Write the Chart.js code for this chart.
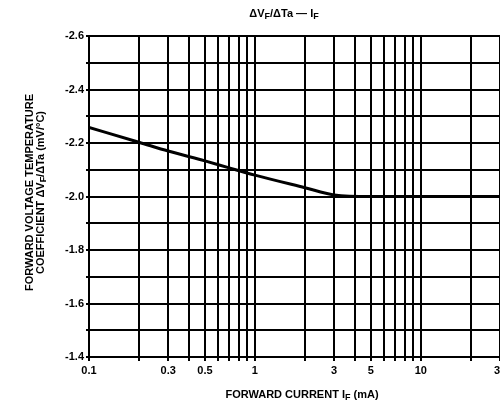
<!DOCTYPE html>
<html lang="en">
<head>
<meta charset="UTF-8">
<style>
html, body {
    margin: 0;
    padding: 0;
    background: #fff;
    overflow: hidden;
}

.chart-box {
    position: relative;
    width: 520px;
    height: 406px;
}
</style>
</head>
<body>
<div class="chart-box">
<canvas id="tempCoefChart"></canvas>
</div>
<script src="https://cdn.jsdelivr.net/npm/chart.js"></script>
<script>
// curve
const currentMA = [0.1, 0.2, 0.3, 0.5, 0.7, 1, 2, 3, 5, 30];
const tempCoef = [-2.258, -2.203, -2.17, -2.133, -2.107, -2.08, -2.033, -2.006, -2.0, -2.0];

// log paper grid + the labelled ticks
const xGridValues = [0.1, 0.2, 0.3, 0.4, 0.5, 0.6, 0.7, 0.8, 0.9, 1, 2, 3, 4, 5, 6, 7, 8, 9, 10, 20, 30];
const xLabelValues = [0.1, 0.3, 0.5, 1, 3, 5, 10, 30];
const xLabelTexts = ['0.1', '0.3', '0.5', '1', '3', '5', '10', '30'];
const yGridValues = [-2.6, -2.5, -2.4, -2.3, -2.2, -2.1, -2.0, -1.9, -1.8, -1.7, -1.6, -1.5, -1.4];
const yLabelValues = [-2.6, -2.4, -2.2, -2.0, -1.8, -1.6, -1.4];

const FONT = '"Liberation Sans", Arial, sans-serif';

function findLabel(values, texts, v) {
    const i = values.findIndex(t => Math.abs(t - v) < 1e-6);
    return i < 0 ? '' : texts[i];
}

// draws text with subscript parts, centred on x
function drawRich(ctx, parts, x, y, size) {
    const mainFont = 'bold ' + size + 'px ' + FONT;
    const subFont = 'bold ' + (size - 2) + 'px ' + FONT;
    let total = 0;
    parts.forEach(p => {
        ctx.font = p[1] ? subFont : mainFont;
        total += ctx.measureText(p[0]).width;
    });
    let cx = x - total / 2;
    ctx.textAlign = 'left';
    ctx.textBaseline = 'middle';
    parts.forEach(p => {
        ctx.font = p[1] ? subFont : mainFont;
        ctx.fillText(p[0], cx, p[1] ? y + 3 : y);
        cx += ctx.measureText(p[0]).width;
    });
}

const titlePlugin = {
    id: 'sheetTitles',
    afterDraw(chart) {
        const ctx = chart.ctx;
        const a = chart.chartArea;
        ctx.save();
        ctx.fillStyle = '#000';
        drawRich(ctx, [['\u0394V', 0], ['F', 1], ['/\u0394Ta \u2014 I', 0], ['F', 1]], a.left + 195, 14, 11);
        drawRich(ctx, [['FORWARD CURRENT I', 0], ['F', 1], [' (mA)', 0]], a.left + 213, 395, 11);
        ctx.translate(0, (a.top + a.bottom) / 2 - 4);
        ctx.rotate(-Math.PI / 2);
        drawRich(ctx, [['FORWARD VOLTAGE TEMPERATURE', 0]], 0, 30, 11);
        drawRich(ctx, [['COEFFICIENT \u0394V', 0], ['F', 1], ['/\u0394Ta (mV/\u00b0C)', 0]], 0, 41, 11);
        ctx.restore();
    }
};

const ctx = document.getElementById('tempCoefChart').getContext('2d');
const tempCoefChart = new Chart(ctx, {
    type: 'line',
    data: {
        datasets: [{
            data: currentMA.map((x, i) => ({x: x, y: tempCoef[i]})),
            borderColor: '#000',
            borderWidth: 3,
            pointRadius: 0,
            tension: 0.4,
            cubicInterpolationMode: 'monotone',
            fill: false
        }]
    },
    options: {
        responsive: true,
        maintainAspectRatio: false,
        animation: false,
        layout: {
            padding: {top: 36, right: 20, left: 0, bottom: 0}
        },
        scales: {
            x: {
                type: 'logarithmic',
                min: 0.1,
                max: 30,
                afterBuildTicks: s => { s.ticks = xGridValues.map(v => ({value: v})); },
                afterFit: s => { s.height = 49; },
                ticks: {
                    autoSkip: false,
                    maxRotation: 0,
                    padding: 3,
                    color: '#000',
                    font: {family: FONT, size: 11, weight: 'bold'},
                    callback: v => findLabel(xLabelValues, xLabelTexts, v)
                },
                grid: {color: '#000', lineWidth: 2, tickLength: 4},
                border: {color: '#000', width: 2}
            },
            y: {
                type: 'linear',
                reverse: true,
                min: -2.6,
                max: -1.4,
                afterBuildTicks: s => { s.ticks = yGridValues.map(v => ({value: v})); },
                afterFit: s => { s.width = 89; },
                ticks: {
                    autoSkip: false,
                    padding: 2,
                    color: '#000',
                    font: {family: FONT, size: 11, weight: 'bold'},
                    callback: v => yLabelValues.some(t => Math.abs(t - v) < 1e-6) ? v.toFixed(1) : ''
                },
                grid: {color: '#000', lineWidth: 2, tickLength: 3},
                border: {color: '#000', width: 2}
            }
        },
        plugins: {
            legend: {display: false},
            tooltip: {enabled: false}
        }
    },
    plugins: [titlePlugin]
});
</script>
</body>
</html>
